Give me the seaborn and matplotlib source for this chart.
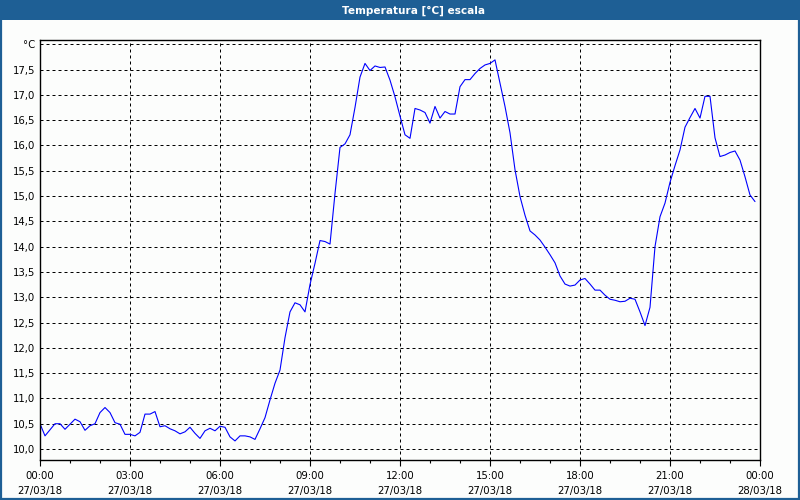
import numpy as np
import pandas as pd
import matplotlib
matplotlib.use("Agg")
import matplotlib.pyplot as plt
import seaborn as sns
from matplotlib.patches import Rectangle
from matplotlib.ticker import FixedLocator, FuncFormatter

title = "Temperatura [°C] escala"
unit_label = "°C"
start = "2018-03-27 00:00"

temps = [
    10.50, 10.26, 10.38, 10.50, 10.50, 10.39, 10.49, 10.59, 10.54, 10.37,
    10.46, 10.50, 10.72, 10.82, 10.72, 10.52, 10.49, 10.29, 10.29, 10.26,
    10.33, 10.69, 10.69, 10.74, 10.44, 10.46, 10.40, 10.36,
    10.30, 10.34, 10.43, 10.31, 10.21, 10.36, 10.41, 10.36, 10.45, 10.43,
    10.24, 10.16, 10.26, 10.26, 10.24, 10.19, 10.40, 10.62,
    10.97, 11.30, 11.56, 12.20, 12.71, 12.89, 12.85, 12.71, 13.25, 13.67,
    14.12, 14.10, 14.05,
    15.05, 15.96, 16.03, 16.21, 16.75, 17.35, 17.62, 17.48, 17.57, 17.54,
    17.55, 17.29, 16.96, 16.58, 16.21, 16.14, 16.73, 16.70, 16.65, 16.44,
    16.77, 16.54, 16.67, 16.62, 16.62, 17.16, 17.30, 17.30, 17.42, 17.52,
    17.59, 17.62, 17.69, 17.23, 16.77, 16.25, 15.52, 14.99, 14.62, 14.31,
    14.23, 14.13,
    13.99, 13.84, 13.68, 13.42, 13.26, 13.22, 13.24, 13.34, 13.37, 13.26,
    13.14, 13.14, 13.04, 12.96, 12.94, 12.91, 12.92, 12.98, 12.96, 12.71,
    12.44, 12.80, 14.00, 14.59, 14.86, 15.27, 15.60, 15.91, 16.36, 16.55,
    16.73, 16.54, 16.97, 16.97, 16.15, 15.78, 15.81, 15.86, 15.89, 15.71,
    15.38, 15.02, 14.89,
]

x_tick_labels = [
    "00:00\n27/03/18", "03:00\n27/03/18", "06:00\n27/03/18",
    "09:00\n27/03/18", "12:00\n27/03/18", "15:00\n27/03/18",
    "18:00\n27/03/18", "21:00\n27/03/18", "00:00\n28/03/18",
]
y_ticks = [10.0, 10.5, 11.0, 11.5, 12.0, 12.5, 13.0, 13.5, 14.0,
           14.5, 15.0, 15.5, 16.0, 16.5, 17.0, 17.5, 18.0]

sns.set_theme(style="white")
plt.rcParams['font.family'] = ['DejaVu Sans']

bg = "#fcfdfc"
blue = "#1e5f95"

times = pd.date_range(start, periods=len(temps), freq="10min")
df = pd.DataFrame({"time": times, "temp": temps})

fig = plt.figure(figsize=(8, 5), dpi=100, facecolor=bg)
ax = fig.add_axes([40 / 800, 1 - 460 / 500, 720 / 800, 420 / 500])
ax.set_facecolor(bg)

sns.lineplot(data=df, x="time", y="temp", ax=ax, color="#0000ff",
             linewidth=0.8)

t0 = pd.Timestamp(start)
major = pd.date_range(t0, periods=9, freq="3h")
minor = pd.date_range(t0, periods=25, freq="1h")
ax.set_xlim(t0, t0 + pd.Timedelta(hours=24))
ax.set_xticks(major)
ax.set_xticks(minor, minor=True)
ax.set_xticklabels(x_tick_labels, fontsize=7.3, linespacing=1.55)

ax.set_ylim(9.783, 18.083)
ax.yaxis.set_major_locator(FixedLocator(y_ticks))
ax.yaxis.set_major_formatter(FuncFormatter(
    lambda v, p: unit_label if abs(v - 18.0) < 1e-6 else f"{v:.1f}".replace(".", ",")))
ax.tick_params(axis="y", length=0, pad=3.5, labelsize=7.3, colors="black")
ax.tick_params(axis="x", which="major", length=4, width=0.8, pad=4,
               direction="out", bottom=True, colors="black")
ax.tick_params(axis="x", which="minor", length=2.5, width=0.8,
               direction="out", bottom=True, colors="black")

ax.grid(True, which="major", color="black", linestyle=(0, (3, 3)),
        linewidth=0.72)
for s in ax.spines.values():
    s.set_visible(True)
    s.set_color("black")
    s.set_linewidth(1.0)

ax.set_xlabel("")
ax.set_ylabel("")

# title bar
fig.patches.append(Rectangle((0, 1 - 20 / 500), 1, 20 / 500,
                             transform=fig.transFigure, facecolor=blue,
                             edgecolor="none", zorder=0))
fig.text(413 / 800, 1 - 10.5 / 500, title, color="white", fontsize=7.6,
         fontweight="bold", ha="center", va="center")
# outer frame
fig.patches.append(Rectangle((1 / 800, 1 / 500), 798 / 800, 498 / 500,
                             transform=fig.transFigure, facecolor="none",
                             edgecolor=blue, linewidth=1.6, zorder=0))

fig.savefig("out.png", dpi=100, facecolor=bg)
